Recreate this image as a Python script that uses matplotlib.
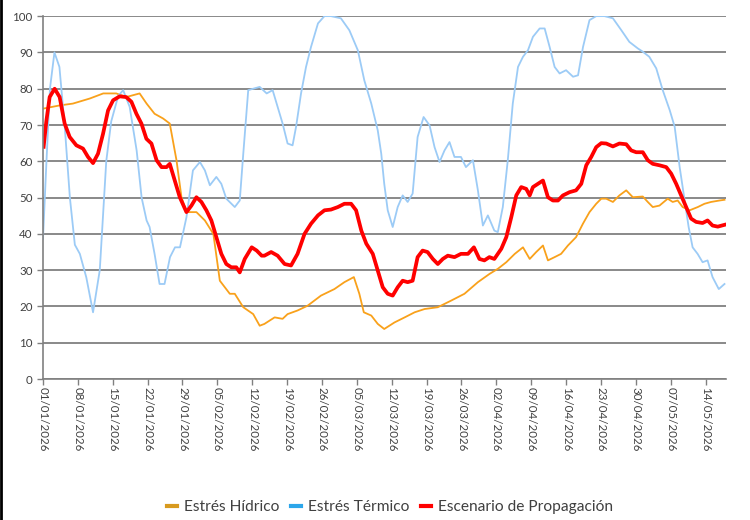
import numpy as np
import pandas as pd
import matplotlib
matplotlib.use('Agg')
import matplotlib.pyplot as plt
from matplotlib.lines import Line2D

plt.rcParams['font.family'] = ['Lato', 'DejaVu Sans']

start = pd.Timestamp('2026-01-01')

# dias desde 01/01/2026 y valores
hidrico_dias = [0, 3.35, 6.0, 9.4, 12.1, 14.7, 16.7, 19.4, 20.8, 22.4, 24.1, 25.45, 26.8, 27.8, 28.8,
                30.8, 32.5, 34.2, 35.5, 37.5, 38.5, 40.2, 42.2, 43.5, 44.45, 46.5, 48.1, 49.1, 51.1,
                53.1, 55.8, 58.5, 60.5, 62.4, 63.5, 64.4, 65.9, 67.2, 68.5, 70.55, 72.6, 74.6, 76.6,
                79.25, 81.9, 84.6, 87.3, 89.66, 91.33, 93, 94.7, 96.35, 97.7, 99, 100.36, 101.36,
                102.7, 104, 105.37, 107, 108.38, 109.7, 111.05, 112.06, 113.06, 114.4, 115.7, 117.07,
                118.4, 120.4, 121.4, 122.4, 123.75, 125.4, 126.4, 127.4, 128.4, 129.8, 131.44, 132.78,
                134.1, 135.8, 136.8]
hidrico = [74.5, 75.4, 75.9, 77.3, 78.7, 78.7, 77.7, 78.7, 75.9, 73.1, 71.8, 70.4, 60.3, 50.1, 46,
           46, 43.7, 40, 27.1, 23.5, 23.5, 19.8, 17.9, 14.7, 15.2, 17, 16.6, 17.9, 18.9,
           20.2, 23, 24.8, 26.7, 28.1, 23.5, 18.4, 17.5, 15.2, 13.8, 15.6, 17, 18.4, 19.3,
           19.8, 21.6, 23.5, 26.7, 29, 30.4, 32.2, 34.5, 36.3, 33.1, 35, 36.8, 32.7,
           33.6, 34.5, 36.8, 39.1, 42.8, 46, 48.3, 49.7, 49.7, 48.8, 50.6, 52,
           50.1, 50.3, 48.8, 47.4, 47.8, 49.7, 48.8, 49.2, 47.4, 46.5, 47.4, 48.3,
           48.8, 49.2, 49.4]

termico_dias = [0, 0.7, 1.4, 2.3, 3.3, 4.4, 5.4, 6.4, 7.4, 8.7, 10.05, 11.4, 12.7, 13.7, 15.1, 16.1,
                17.4, 18.8, 19.8, 20.8, 21.4, 22.4, 23.4, 24.4, 25.5, 26.5, 27.5, 28.8, 30.1, 31.5,
                32.5, 33.5, 34.8, 35.8, 36.8, 38.5, 39.5, 40.2, 41.2, 42.2, 43.5, 44.9, 46.1, 47.1,
                48.1, 49.1, 50.1, 50.8, 51.8, 52.8, 53.8, 55.2, 56.5, 57.8, 59.8, 61.5, 63.2, 64.5,
                65.9, 67.2, 67.9, 68.5, 69.2, 70.2, 71.2, 72.2, 73.2, 74.2, 75.2, 76.4, 77.6, 78.6,
                79.6, 80.6, 81.6, 82.6, 83.9, 84.9, 86.3, 87.3, 88.3, 89.3, 90.6, 91.3, 92.3, 93.3,
                94.3, 95.35, 96.35, 97.35, 98.35, 99.7, 100.7, 101.7, 102.7, 103.7, 105, 106.4,
                107.4, 108.4, 109.7, 111.05, 112.7, 114.4, 116.1, 117.7, 119.4, 120.4, 121.7, 123.1,
                124.4, 125.8, 126.8, 127.8, 128.8, 129.6, 130.4, 131.4, 132.4, 133.4, 134.4, 135.65,
                136.8]
termico = [38.6, 60, 80, 90, 86, 69, 50, 37, 34.5, 28, 18.4, 30, 60, 71, 78, 79.6,
           75, 63, 50, 43.7, 41.9, 34.5, 26.2, 26.2, 33.6, 36.3, 36.3, 44.6, 57.5, 59.8,
           57.5, 53.4, 55.7, 53.8, 49.7, 47.4, 49.2, 62, 79.6, 80, 80.5, 78.7, 79.6, 75,
           70.4, 64.9, 64.4, 69.5, 78.7, 86, 91.5, 98, 100, 100, 99.4, 96.1, 90.6, 82.3,
           75.9, 68.5, 62.1, 53.8, 46.5, 41.9, 47.4, 50.6, 48.8, 51.1, 66.7, 72.2, 69.9, 63.9,
           59.8, 63, 65.3, 61.2, 61.2, 58.4, 60.3, 52, 42.3, 45.1, 40.9, 40.5, 47.4, 60.3,
           75.9, 86, 88.8, 90.6, 94.3, 96.6, 96.6, 91.5, 86, 84.2, 85.1, 83.3,
           83.7, 91.5, 98.9, 100, 100, 99.4, 96.1, 92.9, 91.1, 90.2, 88.8, 85.6,
           79.6, 74.1, 69.5, 58.4, 49.2, 41.9, 36.3, 34.5, 32.2, 32.7, 28.1, 24.8,
           26.2]

propag_dias = [0.13, 0.67, 1.34, 2.34, 3.35, 4.35, 5.36, 6.7, 8.04, 9.04, 10.05, 11.05, 12.06, 13.06,
               14.07, 15.4, 16.7, 17.75, 18.75, 19.76, 20.76, 21.77, 22.8, 23.8, 24.8, 25.45, 26.46,
               27.46, 28.8, 29.8, 30.8, 31.8, 32.8, 33.8, 34.8, 35.8, 36.8, 37.8, 38.8, 39.5, 40.5,
               41.9, 42.9, 43.9, 44.45, 45.8, 47.1, 48.5, 49.8, 51.1, 52.5, 53.8, 55.2, 56.5, 57.8,
               59.2, 60.5, 61.85, 62.85, 63.9, 64.9, 66.2, 67.2, 68.2, 69.2, 70.2, 71.2, 72.2, 73.2,
               74.2, 75.2, 76.2, 77.2, 78.25, 79.25, 80.26, 81.26, 82.6, 83.9, 85.3, 86.5, 87.6, 88.6,
               89.6, 90.6, 92, 93, 94, 95, 96, 97, 97.7, 98.35, 99.36, 100.36, 101.36, 102.36,
               103.37, 104.37, 105.7, 107, 108.05, 109.05, 110.05, 111.05, 112.06, 113.06, 114.4,
               115.7, 117.07, 118.07, 119.07, 120.4, 121.4, 122.4, 123.75, 125.1, 126.1, 127.1,
               128.1, 129.1, 130.1, 131.1, 132.4, 133.4, 134.4, 135.45, 136.8]
propag = [64, 71, 77.7, 80, 77.7, 70.4, 66.7, 64.4, 63.5, 61.2, 59.5, 62.1, 67.6, 74,
          76.8, 77.9, 77.7, 76.4, 73.1, 70.4, 66.2, 64.9, 60.3, 58.4, 58.4, 59.3, 54.7,
          50.1, 46, 47.8, 50.1, 48.8, 46.5, 43.7, 39.1, 34.5, 31.7, 30.8, 30.8, 29.4, 33.1,
          36.3, 35.4, 34, 34, 35, 34, 31.7, 31.3, 34.5, 40, 42.8, 45.1, 46.5, 46.7,
          47.4, 48.3, 48.3, 46.5, 40.9, 37.3, 34.5, 29.9, 25.3, 23.5, 23, 25.3, 27.1, 26.7,
          27.1, 33.6, 35.4, 35, 33.1, 31.7, 33.1, 34, 33.6, 34.5, 34.5, 36.3, 33.1, 32.7,
          33.6, 33.1, 35.9, 39.1, 44.6, 50.6, 52.9, 52.4, 50.6, 52.9, 53.8, 54.7, 50.1, 49.2,
          49.2, 50.6, 51.5, 52, 53.8, 58.9, 61.2, 63.9, 65, 64.9, 64.1,
          64.9, 64.7, 63, 62.5, 62.5, 60.3, 59.3, 58.9, 58.4, 56.6, 53.8,
          50.6, 47.4, 44.2, 43.3, 43, 43.7, 42.3, 42, 42.5]

ticks = pd.date_range('2026-01-01', '2026-05-14', freq='7D')


def fechas(d):
    return start + pd.to_timedelta(np.array(d), unit='D')


fig = plt.figure(figsize=(7.5, 5.2), dpi=100)
ax = fig.add_axes([0.0573, 0.271, 0.9107, 0.698])

ax.plot(fechas(hidrico_dias), hidrico, '-', color='#F9A11B', lw=1.3, label='Estrés Hídrico')
ax.plot(fechas(termico_dias), termico, '-', color='#9CCBF6', lw=1.3, label='Estrés Térmico')
ax.plot(fechas(propag_dias), propag, '-', color='#FF0000', lw=2.7, label='Escenario de Propagación')

ax.set_ylim(0, 100)
ax.set_yticks(range(0, 101, 10))
ax.set_xlim(start, start + pd.Timedelta(days=137.1))
ax.set_xticks(ticks)
ax.set_xticklabels([t.strftime('%d/%m/%Y') for t in ticks], rotation=-90, va='top', ha='center')

ax.grid(axis='y', color='#808080', lw=1.3)
ax.set_axisbelow(True)
for s in ['top', 'right']:
    ax.spines[s].set_visible(False)
for s in ['left', 'bottom']:
    ax.spines[s].set_color('#808080')
    ax.spines[s].set_linewidth(1.2)
ax.tick_params(axis='both', colors='#808080', length=4, width=1, labelsize=8.3, labelcolor='#404040')
ax.tick_params(axis='x', pad=2)

handles = [Line2D([], [], color='#D89A1E', lw=3),
           Line2D([], [], color='#2CA6EA', lw=3),
           Line2D([], [], color='#FF0000', lw=3)]
fig.legend(handles, ['Estrés Hídrico', 'Estrés Térmico', 'Escenario de Propagación'],
           loc='center', bbox_to_anchor=(0.52, 0.025), ncol=3, frameon=False,
           fontsize=11.2, handlelength=0.6, handletextpad=0.45, columnspacing=0.8,
           labelcolor='#404040')

fig.add_artist(Line2D([0.001, 0.001], [0, 1], color='black', lw=2))

plt.savefig('out.png', dpi=100)
